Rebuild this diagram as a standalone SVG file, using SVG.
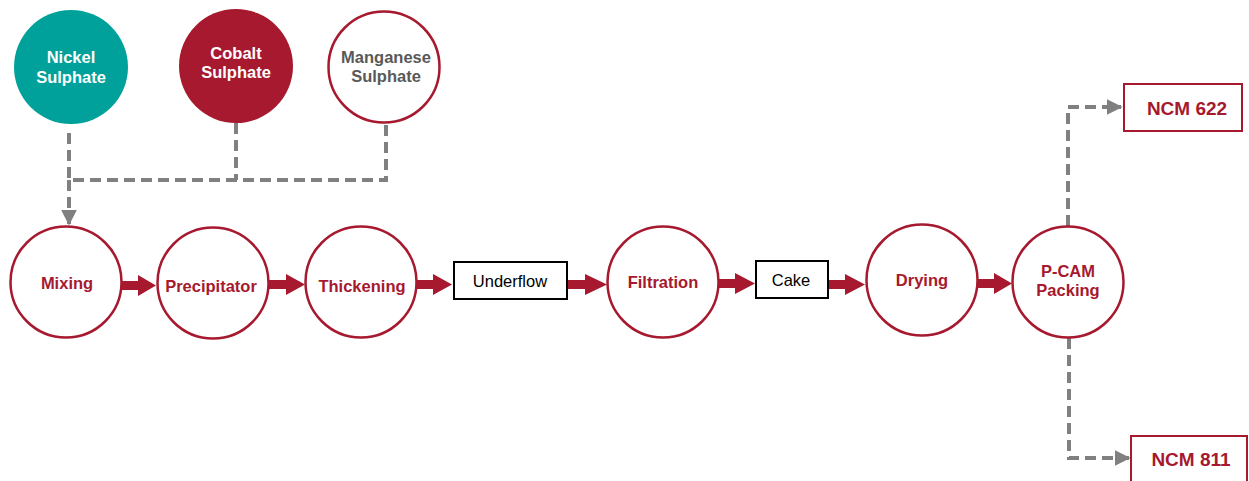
<svg xmlns="http://www.w3.org/2000/svg" width="1249" height="481" viewBox="0 0 1249 481">
<style>
.proc{fill:#fff;stroke:#A6192E;stroke-width:2.5}
.lbl{font-family:"Liberation Sans",Arial,sans-serif;font-weight:bold;font-size:16.5px;fill:#A6192E;text-anchor:middle;dominant-baseline:central}
.wt{font-family:"Liberation Sans",Arial,sans-serif;font-weight:bold;font-size:16.5px;fill:#fff;text-anchor:middle;dominant-baseline:central}
.gt{font-family:"Liberation Sans",Arial,sans-serif;font-weight:bold;font-size:16.5px;fill:#595959;text-anchor:middle;dominant-baseline:central}
.box{fill:#fff;stroke:#000;stroke-width:2}
.bt{font-family:"Liberation Sans",Arial,sans-serif;font-size:16.5px;fill:#000;text-anchor:middle;dominant-baseline:central}
.out{fill:#fff;stroke:#A6192E;stroke-width:2}
.ot{font-family:"Liberation Sans",Arial,sans-serif;font-weight:bold;font-size:19px;fill:#A6192E;text-anchor:middle;dominant-baseline:central}
.dash{fill:none;stroke:#808080;stroke-width:4;stroke-dasharray:11 6}
.red{fill:#A6192E}
</style>
<defs>
<marker id="ga" viewBox="0 0 10 10" refX="9" refY="5" markerWidth="4" markerHeight="4" orient="auto" markerUnits="strokeWidth">
<path d="M0,0 L10,5 L0,10 z" fill="#808080"/>
</marker>
</defs>
<g id="connectors">
<path class="dash" d="M69,133 V180 H386 V123"/>
<path class="dash" d="M236,123 V180"/>
<path class="dash" d="M69,180 V224" marker-end="url(#ga)"/>
<path class="dash" d="M1068,226 V107 H1121" marker-end="url(#ga)"/>
<path class="dash" d="M1069,338 V458 H1129" marker-end="url(#ga)"/>
<polygon class="red" points="122,281 138,281 138,275 156,285.5 138,296 138,290 122,290"/>
<polygon class="red" points="269,280 286,280 286,274 305,284.5 286,295 286,289 269,289"/>
<polygon class="red" points="417,280 433,280 433,274 452,284.5 433,295 433,289 417,289"/>
<polygon class="red" points="568,280 585,280 585,274 607,284.5 585,295 585,289 568,289"/>
<polygon class="red" points="719,279 735,279 735,273 755,283.5 735,294 735,288 719,288"/>
<polygon class="red" points="829,280 845,280 845,274 865,284.5 845,295 845,289 829,289"/>
<polygon class="red" points="978,279 994,279 994,273 1012,283.5 994,294 994,288 978,288"/>
</g>
<g id="nickel"><circle cx="71" cy="67" r="57" fill="#00A19A"/><text class="wt" x="71" y="57">Nickel</text><text class="wt" x="71" y="77">Sulphate</text></g>
<g id="cobalt"><circle cx="236" cy="66" r="57" fill="#A6192E"/><text class="wt" x="236" y="53">Cobalt</text><text class="wt" x="236" y="72">Sulphate</text></g>
<g id="manganese"><circle cx="384" cy="67" r="55.5" class="proc"/><text class="gt" x="386" y="57">Manganese</text><text class="gt" x="386" y="76">Sulphate</text></g>
<g id="mixing"><circle cx="66" cy="282" r="55.5" class="proc"/><text class="lbl" x="67" y="283">Mixing</text></g>
<g id="precipitator"><circle cx="213" cy="283" r="55.5" class="proc"/><text class="lbl" x="211" y="286">Precipitator</text></g>
<g id="thickening"><circle cx="361" cy="282" r="55.5" class="proc"/><text class="lbl" x="362" y="286">Thickening</text></g>
<g id="underflow"><rect class="box" x="454" y="262" width="113" height="37"/><text class="bt" x="510" y="281">Underflow</text></g>
<g id="filtration"><circle cx="663" cy="282" r="55.5" class="proc"/><text class="lbl" x="663" y="282">Filtration</text></g>
<g id="cake"><rect class="box" x="756" y="261" width="72" height="37"/><text class="bt" x="791" y="280">Cake</text></g>
<g id="drying"><circle cx="922" cy="280" r="55.5" class="proc"/><text class="lbl" x="922" y="280">Drying</text></g>
<g id="pcam"><circle cx="1068" cy="282" r="55.5" class="proc"/><text class="lbl" x="1068" y="271">P-CAM</text><text class="lbl" x="1068" y="290">Packing</text></g>
<g id="ncm622"><rect class="out" x="1124" y="84" width="118" height="47"/><text class="ot" x="1187" y="108">NCM 622</text></g>
<g id="ncm811"><rect class="out" x="1131" y="436" width="116" height="50"/><text class="ot" x="1191" y="459">NCM 811</text></g>
</svg>
